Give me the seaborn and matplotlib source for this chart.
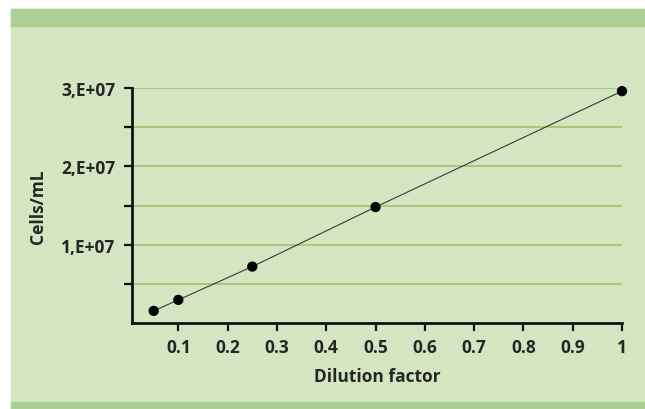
import matplotlib
matplotlib.use("Agg")
from matplotlib import pyplot as plt
from matplotlib.patches import Rectangle
import pandas as pd
import seaborn as sns

# data
dilution = [0.05, 0.1, 0.25, 0.5, 1.0]
cells_per_ml = [1.55e6, 2.95e6, 7.2e6, 1.48e7, 2.96e7]

x_ticks = [0.1, 0.2, 0.3, 0.4, 0.5, 0.6, 0.7, 0.8, 0.9, 1.0]
x_tick_labels = ["0.1", "0.2", "0.3", "0.4", "0.5", "0.6", "0.7", "0.8", "0.9", "1"]
y_ticks = [5e6, 1e7, 1.5e7, 2e7, 2.5e7, 3e7]
y_tick_labels = ["", "1,E+07", "", "2,E+07", "", "3,E+07"]

BG = "#d3e5c1"
BAND = "#acd094"
GRID = "#9fbf62"
TEXT = "#262626"

sns.set_theme(style="white")
plt.rcParams["font.family"] = ["Open Sans", "DejaVu Sans"]

df = pd.DataFrame({"Dilution factor": dilution, "Cells/mL": cells_per_ml})

W, H = 645, 410
fig = plt.figure(figsize=(W / 100, H / 100), dpi=100)
fig.patch.set_facecolor("white")

# green panel with darker bands at top and bottom
fig.patches.append(Rectangle((11 / W, 0), 1 - 11 / W, 1 - 10 / H,
                             transform=fig.transFigure, color=BG, zorder=-3))
fig.patches.append(Rectangle((11 / W, 1 - 27 / H), 1 - 11 / W, 17 / H,
                             transform=fig.transFigure, color=BAND, zorder=-2))
fig.patches.append(Rectangle((11 / W, 0), 1 - 11 / W, 7 / H,
                             transform=fig.transFigure, color=BAND, zorder=-2))

left, right, top, bottom = 132, 622, 89, 324
ax = fig.add_axes([left / W, 1 - bottom / H, (right - left) / W, (bottom - top) / H])
ax.patch.set_alpha(0)

for y in y_ticks:
    ax.axhline(y, color=GRID, lw=1.1, zorder=0)

sns.lineplot(data=df, x="Dilution factor", y="Cells/mL", ax=ax,
             color="#3a3a3a", lw=0.8, zorder=2)
sns.scatterplot(data=df, x="Dilution factor", y="Cells/mL", ax=ax,
                color="black", s=55, edgecolor="none", zorder=3, clip_on=False)

ax.set_xlim(0.006, 1.0)
ax.set_ylim(0, 3e7)

for side in ["top", "right"]:
    ax.spines[side].set_visible(False)
for side in ["left", "bottom"]:
    ax.spines[side].set_color("#111111")
    ax.spines[side].set_linewidth(2)

ax.set_xticks(x_ticks)
ax.set_xticklabels(x_tick_labels)
ax.set_yticks(y_ticks)
ax.set_yticklabels(y_tick_labels)
ax.tick_params(axis="both", direction="out", length=6, width=1.6,
               color="#111111", labelcolor=TEXT, labelsize=12.5)
ax.tick_params(axis="x", pad=5)
ax.tick_params(axis="y", pad=6)
ax.tick_params(axis="both", which="both", bottom=True, left=True)
for lab in ax.get_xticklabels() + ax.get_yticklabels():
    lab.set_fontweight("bold")

ax.set_xlabel("Dilution factor", fontsize=12.5, fontweight="bold",
              color=TEXT, labelpad=8)
ax.set_ylabel("Cells/mL", fontsize=12.5, fontweight="bold",
              color=TEXT, labelpad=10)

fig.savefig("out.png", dpi=100)
